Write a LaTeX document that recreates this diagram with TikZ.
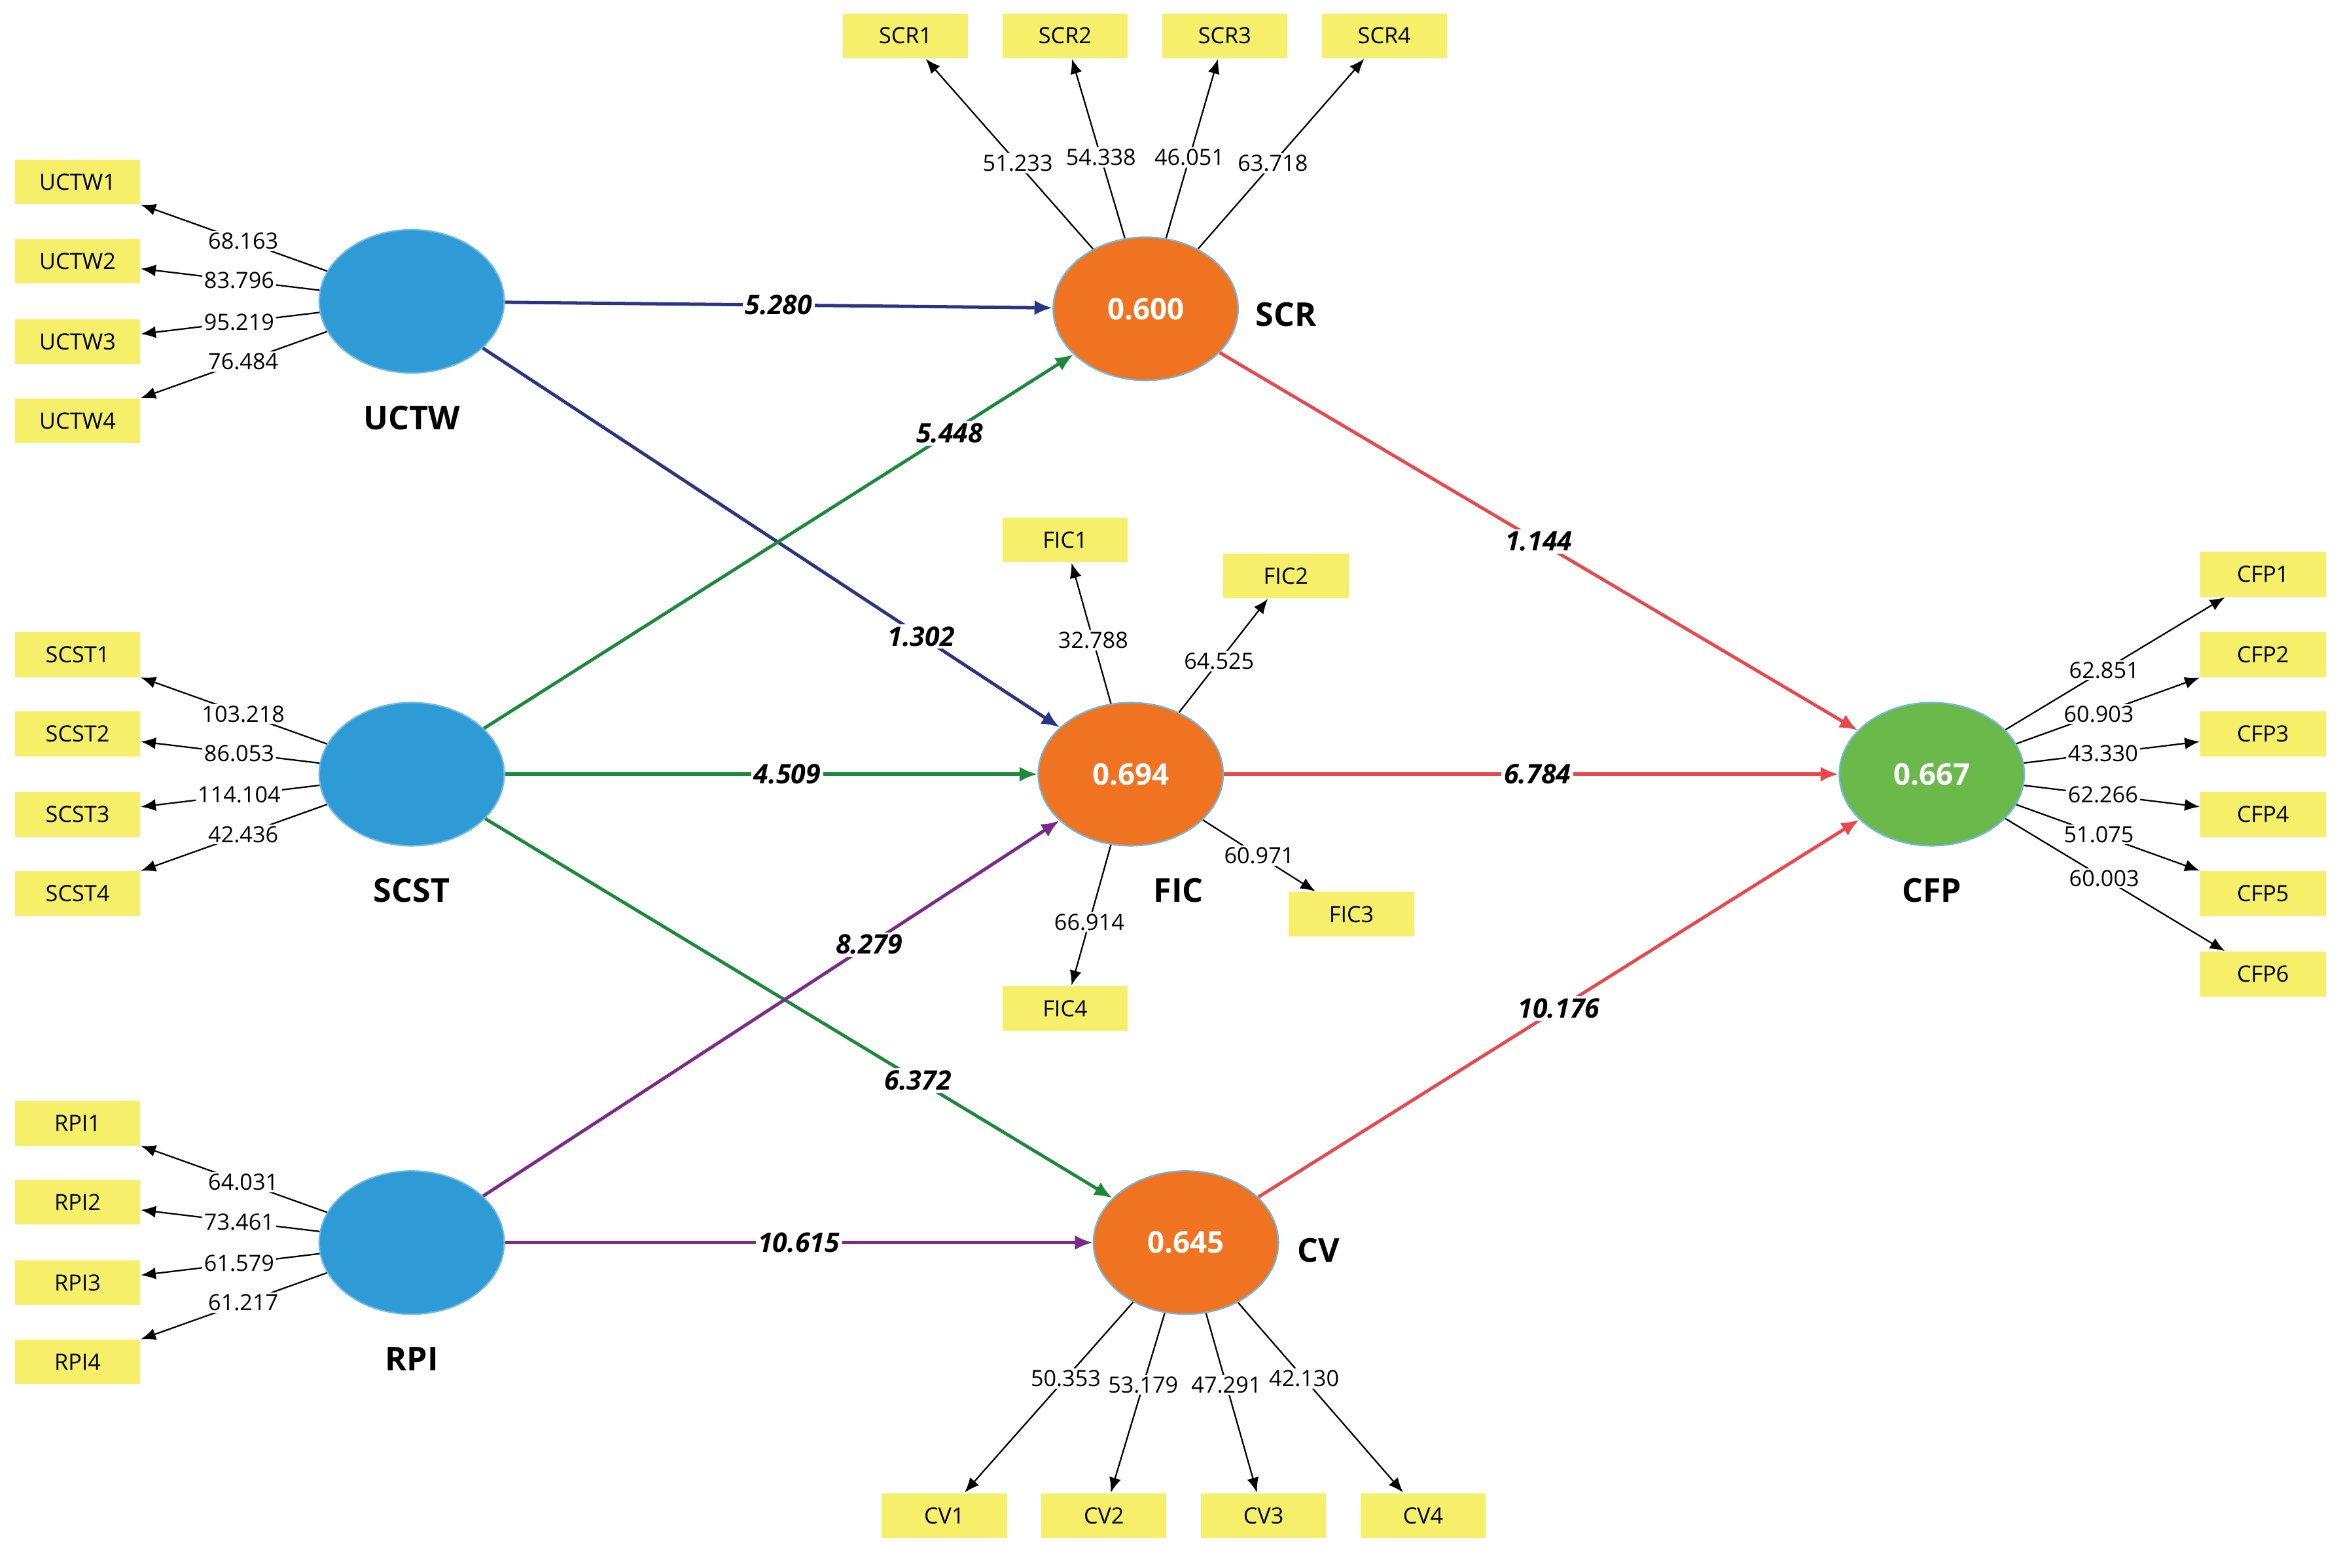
\documentclass[tikz,border=0pt]{standalone}
\usepackage{fontspec}
\setmainfont{Open Sans}
\usetikzlibrary{shapes.geometric,arrows.meta}
\definecolor{lblue}{RGB}{47,155,214}
\definecolor{lorange}{RGB}{240,115,34}
\definecolor{lgreen}{RGB}{106,185,74}
\definecolor{ybox}{RGB}{245,239,106}
\definecolor{cnavy}{RGB}{40,53,131}
\definecolor{cgreen}{RGB}{26,138,58}
\definecolor{cpurple}{RGB}{123,42,138}
\definecolor{cred}{RGB}{232,71,76}
\tikzset{
 lat/.style={ellipse,minimum width=62pt,minimum height=48pt,draw=lblue!70!white,line width=0.5pt,text=white,font=\fontsize{10}{12}\selectfont\bfseries},
 ind/.style={rectangle,fill=ybox,minimum width=42pt,minimum height=15pt,inner sep=0pt,font=\fontsize{7.5}{9}\selectfont},
 ttl/.style={font=\fontsize{11}{13}\selectfont\bfseries},
 ld/.style={-{Latex[length=5pt,width=4pt]},line width=0.5pt},
 lv/.style={fill=white,inner sep=0.6pt,font=\fontsize{7.5}{9}\selectfont},
 pth/.style={-{Latex[length=6pt,width=5pt]},line width=1.1pt},
 pv/.style={fill=white,inner sep=0.8pt,text=black,font=\fontsize{9}{11}\selectfont\bfseries\itshape},
}
\begin{document}
\begin{tikzpicture}[x=0.5pt,y=-0.5pt]
\useasboundingbox (0,0) rectangle (1568,1051);
% latent
\node[lat,fill=lblue] (uctw) at (276,202) {};
\node[lat,fill=lblue] (scst) at (276,519) {};
\node[lat,fill=lblue] (rpi) at (276,833) {};
\node[lat,fill=lorange] (scr) at (768,207) {0.600};
\node[lat,fill=lorange] (fic) at (758,519) {0.694};
\node[lat,fill=lorange] (cv) at (795,833) {0.645};
\node[lat,fill=lgreen] (cfp) at (1295,519) {0.667};
\node[ttl] (tuctw) at (276,280) {UCTW};
\node[ttl] (tscst) at (276,597) {SCST};
\node[ttl] (trpi) at (276,911) {RPI};
\node[ttl] (tscr) at (862,211) {SCR};
\node[ttl] (tfic) at (790,597) {FIC};
\node[ttl] (tcv) at (884,838) {CV};
\node[ttl] (tcfp) at (1295,597) {CFP};
% indicators
\foreach \n/\y/\v in {1/122/68.163,2/175/83.796,3/229/95.219,4/282/76.484}{
 \node[ind] (uctw\n) at (52,\y) {UCTW\n};
 \draw[ld] (uctw) -- (uctw\n) node[lv,pos=0.45] {\v};}
\foreach \n/\y/\v in {1/439/103.218,2/492/86.053,3/546/114.104,4/599/42.436}{
 \node[ind] (scst\n) at (52,\y) {SCST\n};
 \draw[ld] (scst) -- (scst\n) node[lv,pos=0.45] {\v};}
\foreach \n/\y/\v in {1/753/64.031,2/806/73.461,3/860/61.579,4/913/61.217}{
 \node[ind] (rpi\n) at (52,\y) {RPI\n};
 \draw[ld] (rpi) -- (rpi\n) node[lv,pos=0.45] {\v};}
\foreach \n/\x/\v in {1/607/51.233,2/714/54.338,3/821/46.051,4/928/63.718}{
 \node[ind] (scr\n) at (\x,24) {SCR\n};
 \draw[ld] (scr) -- (scr\n) node[lv,pos=0.45] {\v};}
\foreach \n/\x/\v in {1/633/50.353,2/740/53.179,3/847/47.291,4/954/42.130}{
 \node[ind] (cv\n) at (\x,1016) {CV\n};
 \draw[ld] (cv) -- (cv\n) node[lv,pos=0.4] {\v};}
\node[ind] (fic1) at (714,362) {FIC1};
\node[ind] (fic2) at (862,386) {FIC2};
\node[ind] (fic3) at (906,613) {FIC3};
\node[ind] (fic4) at (714,676) {FIC4};
\draw[ld] (fic) -- (fic1) node[lv,pos=0.45] {32.788};
\draw[ld] (fic) -- (fic2) node[lv,pos=0.45] {64.525};
\draw[ld] (fic) -- (fic3) node[lv,pos=0.5] {60.971};
\draw[ld] (fic) -- (fic4) node[lv,pos=0.55] {66.914};
\foreach \n/\y/\v in {1/385/62.851,2/439/60.903,3/492/43.330,4/546/62.266,5/599/51.075,6/653/60.003}{
 \node[ind] (cfp\n) at (1517,\y) {CFP\n};
 \draw[ld] (cfp) -- (cfp\n) node[lv,pos=0.45] {\v};}
% paths
\draw[pth,cnavy] (uctw) -- (scr) node[pv,pos=0.5] {5.280};
\draw[pth,cnavy] (uctw) -- (fic) node[pv,pos=0.76] {1.302};
\draw[pth,cgreen] (scst) -- (scr) node[pv,pos=0.79] {5.448};
\draw[pth,cgreen] (scst) -- (fic) node[pv,pos=0.53] {4.509};
\draw[pth,cgreen] (scst) -- (cv) node[pv,pos=0.69] {6.372};
\draw[pth,cpurple] (rpi) -- (fic) node[pv,pos=0.67] {8.279};
\draw[pth,cpurple] (rpi) -- (cv) node[pv,pos=0.5] {10.615};
\draw[pth,cred] (scr) -- (cfp) node[pv,pos=0.5] {1.144};
\draw[pth,cred] (fic) -- (cfp) node[pv,pos=0.51] {6.784};
\draw[pth,cred] (cv) -- (cfp) node[pv,pos=0.5] {10.176};
\end{tikzpicture}
\end{document}
